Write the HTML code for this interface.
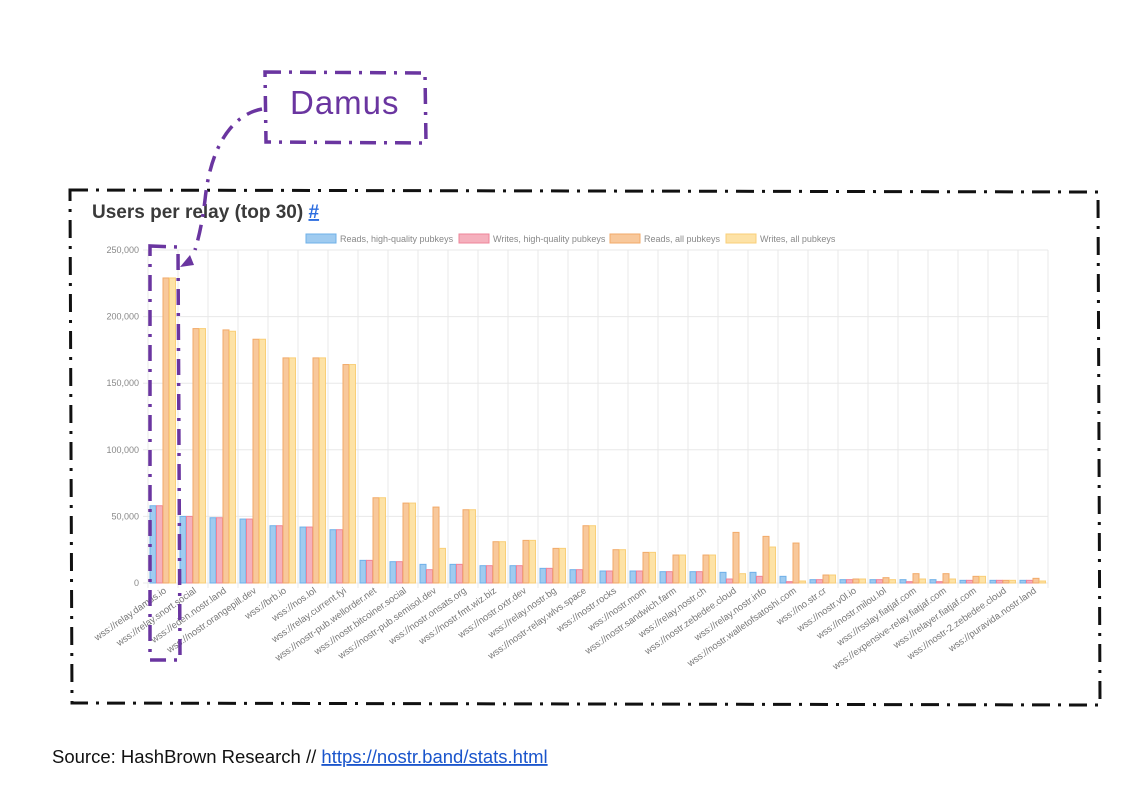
<!DOCTYPE html>
<html><head><meta charset="utf-8"><style>
body{margin:0;background:#fff;width:1126px;height:782px;overflow:hidden;font-family:"Liberation Sans",sans-serif}
</style></head><body>
<svg id="s" width="1126" height="782" xmlns="http://www.w3.org/2000/svg" font-family="Liberation Sans, sans-serif">
<rect width="1126" height="782" fill="#fff"/>
<g id="grid" stroke="#e8e8e8" stroke-width="1"></g>
<g id="bars"></g>
<g id="labels" font-size="9" fill="#777"></g>
<text x="92" y="218" font-size="19" font-weight="bold" fill="#3a3a3a">Users per relay (top 30) <tspan fill="#2d6ee0" text-decoration="underline">#</tspan></text>
<g font-size="9" fill="#888">
<rect x="306" y="234" width="30" height="9" fill="#9fcbf0" stroke="#6fb0e8"/><text x="340" y="242">Reads, high-quality pubkeys</text>
<rect x="459" y="234" width="30" height="9" fill="#f5b0bd" stroke="#ee8499"/><text x="493" y="242">Writes, high-quality pubkeys</text>
<rect x="610" y="234" width="30" height="9" fill="#f8c89b" stroke="#f2aa68"/><text x="644" y="242">Reads, all pubkeys</text>
<rect x="726" y="234" width="30" height="9" fill="#fde2a6" stroke="#f9cf78"/><text x="760" y="242">Writes, all pubkeys</text>
</g>
<path d="M70,190 L1098,192 L1100,705 L72,703 Z" fill="none" stroke="#111" stroke-width="3" stroke-dasharray="18,8,3,8"/>
<g stroke="#6a35a0" stroke-width="3.5" fill="none" stroke-dasharray="16,8,3,8">
<path d="M265,72 L425,73 L426,143 L266,142 Z"/>
<path d="M262,109 C230,115 210,150 205,200 C202,225 198,240 195,250"/>
<path d="M150,246 L178,247 L180,660 L150,660 Z"/>
</g>
<path d="M180,267 L190,255 L194,265 Z" fill="#6a35a0"/>
<text x="290" y="114" font-size="33" fill="#6a35a0" letter-spacing="1">Damus</text>
<text x="52" y="763" font-size="18.5" fill="#111">Source: HashBrown Research // <tspan fill="#1a55cc" text-decoration="underline">https://nostr.band/stats.html</tspan></text>
</svg>
<script>
var d=[["wss://relay.damus.io",58,58,229,229],["wss://relay.snort.social",50,50,191,191],["wss://eden.nostr.land",49,49,190,189],["wss://nostr.orangepill.dev",48,48,183,183],["wss://brb.io",43,43,169,169],["wss://nos.lol",42,42,169,169],["wss://relay.current.fyi",40,40,164,164],["wss://nostr-pub.wellorder.net",17,17,64,64],["wss://nostr.bitcoiner.social",16,16,60,60],["wss://nostr-pub.semisol.dev",14,10,57,26],["wss://nostr.onsats.org",14,14,55,55],["wss://nostr.fmt.wiz.biz",13,13,31,31],["wss://nostr.oxtr.dev",13,13,32,32],["wss://relay.nostr.bg",11,11,26,26],["wss://nostr-relay.wlvs.space",10,10,43,43],["wss://nostr.rocks",9,9,25,25],["wss://nostr.mom",9,9,23,23],["wss://nostr.sandwich.farm",8.5,8.5,21,21],["wss://relay.nostr.ch",8.5,8.5,21,21],["wss://nostr.zebedee.cloud",8,3,38,7],["wss://relay.nostr.info",8,5,35,27],["wss://nostr.walletofsatoshi.com",5,1,30,1.5],["wss://no.str.cr",2.5,2.5,6,6],["wss://nostr.v0l.io",2.5,2.5,3,3],["wss://nostr.milou.lol",2.5,2.5,4,2.5],["wss://rsslay.fiatjaf.com",2.5,1,7,3],["wss://expensive-relay.fiatjaf.com",2.5,1,7,3],["wss://relayer.fiatjaf.com",2,2,5,5],["wss://nostr-2.zebedee.cloud",2,2,2,2],["wss://puravida.nostr.land",2,2,3.5,1.5]];
var NS="http://www.w3.org/2000/svg",g=document.getElementById("grid"),b=document.getElementById("bars"),L=document.getElementById("labels");
function el(p,t,a,txt){var e=document.createElementNS(NS,t);for(var k in a)e.setAttribute(k,a[k]);if(txt)e.textContent=txt;p.appendChild(e);return e}
var x0=148,W=30,y0=583,sc=333/250;
for(var i=0;i<=30;i++)el(g,"line",{x1:x0+i*W,x2:x0+i*W,y1:250,y2:588});
for(var j=0;j<=5;j++){var y=y0-j*50*sc;el(g,"line",{x1:143,x2:1048,y1:y,y2:y});el(L,"text",{x:139,y:y+3,"text-anchor":"end",fill:"#888"},j==0?"0":(j*50)+",000");}
var F=["#9fcbf0","#f5b0bd","#f8c89b","#fde2a6"],S=["#6fb0e8","#ee8499","#f2aa68","#f9cf78"];
d.forEach(function(r,i){for(var k=0;k<4;k++){var h=r[k+1]*sc;el(b,"rect",{x:x0+i*W+2+k*6.5,y:y0-h,width:6,height:h,fill:F[k],stroke:S[k],"stroke-width":1});}
var cx=x0+i*W+19;el(L,"text",{x:cx,y:592,"text-anchor":"end","font-size":"9.5",transform:"rotate(-35 "+cx+" 592)"},r[0]);});
</script>
</body></html>
